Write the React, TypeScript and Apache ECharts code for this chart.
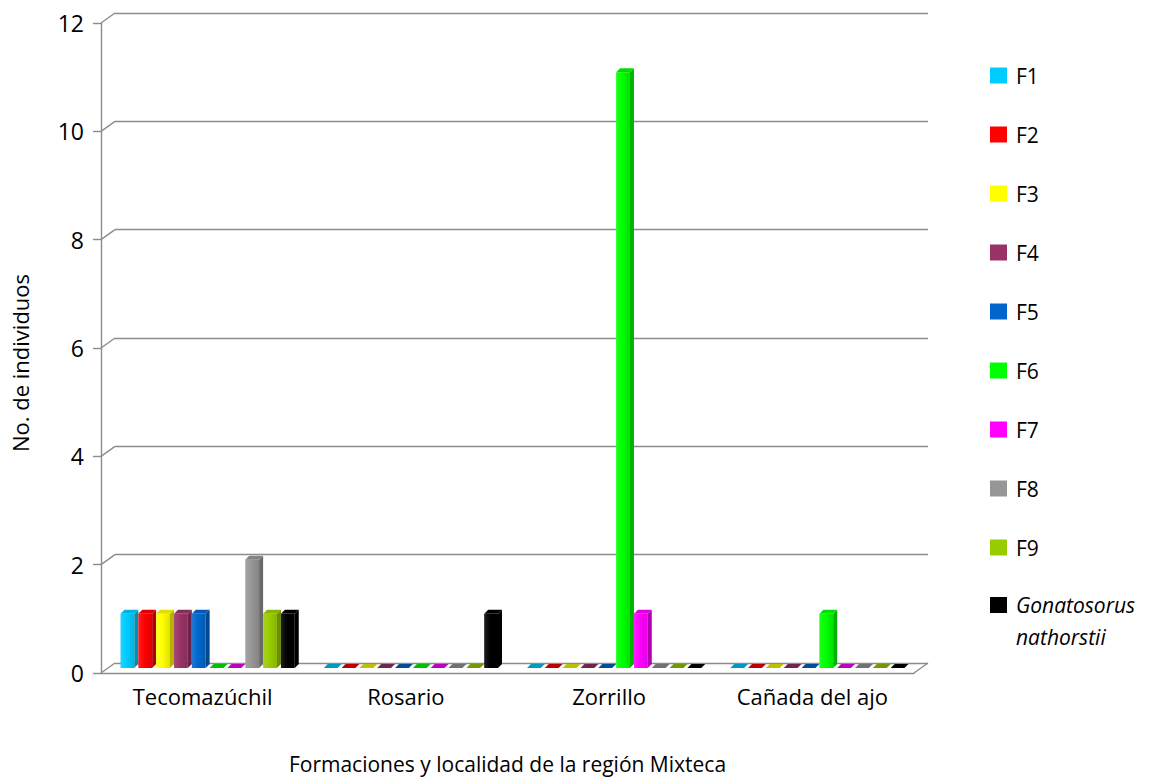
import React, { useEffect, useRef } from "react";
import * as echarts from "echarts";

// Localities on the category axis
const categories = ["Tecomazúchil", "Rosario", "Zorrillo", "Cañada del ajo"];

// Number of individuals per formation, one value per locality
const seriesNames = ["F1", "F2", "F3", "F4", "F5", "F6", "F7", "F8", "F9", "Gonatosorus nathorstii"];
const f1 = [1, 0, 0, 0];
const f2 = [1, 0, 0, 0];
const f3 = [1, 0, 0, 0];
const f4 = [1, 0, 0, 0];
const f5 = [1, 0, 0, 0];
const f6 = [0, 0, 11, 1];
const f7 = [0, 0, 1, 0];
const f8 = [2, 0, 0, 0];
const f9 = [1, 0, 0, 0];
const gonatosorus = [1, 1, 0, 0];
const seriesValues = [f1, f2, f3, f4, f5, f6, f7, f8, f9, gonatosorus];

const seriesColors = [
  "#00CCFF", "#FF0000", "#FFFF00", "#993366", "#0066CC",
  "#00FF00", "#FF00FF", "#969696", "#99CC00", "#000000",
];

// Value axis ticks
const yTicks = [0, 2, 4, 6, 8, 10, 12];

const FONT = "'Open Sans', Lato, sans-serif";
const GRID_LINE = "#8c8c8c";
// Depth offset of the back wall relative to the front axis (pixels)
const DEPTH_X = 14;
const DEPTH_Y = 10;
// Bar depth faces
const BAR_DX = 4;
const BAR_DY = 4;
const GROUP_SHARE = 0.877;

function shade(hex: string, f: number): string {
  const n = parseInt(hex.slice(1), 16);
  let r = (n >> 16) & 255, g = (n >> 8) & 255, b = n & 255;
  if (f < 0) {
    r = Math.round(r * (1 + f)); g = Math.round(g * (1 + f)); b = Math.round(b * (1 + f));
  } else {
    r = Math.round(r + (255 - r) * f); g = Math.round(g + (255 - g) * f); b = Math.round(b + (255 - b) * f);
  }
  return `rgb(${r},${g},${b})`;
}

function barRenderer(seriesIdx: number) {
  const color = seriesColors[seriesIdx];
  return (params: any, api: any) => {
    const cat = api.value(0);
    const val = api.value(1);
    const base = api.coord([cat, 0]);
    const top = api.coord([cat, val]);
    const catW = api.size([1, 0])[0];
    const groupW = catW * GROUP_SHARE;
    const slot = groupW / seriesNames.length;
    const x0 = base[0] - groupW / 2 + seriesIdx * slot;
    const w = slot - BAR_DX;
    const yTop = top[1];
    const yBase = base[1];
    const children: any[] = [];
    if (yBase - yTop > 0.5) {
      children.push({
        type: "rect",
        shape: { x: x0, y: yTop, width: w, height: yBase - yTop },
        style: {
          fill: new echarts.graphic.LinearGradient(0, 0, 1, 0, [
            { offset: 0, color: shade(color, 0.12) },
            { offset: 0.45, color: color },
            { offset: 1, color: shade(color, -0.12) },
          ]),
        },
      });
      children.push({
        type: "polygon",
        shape: {
          points: [
            [x0 + w, yTop],
            [x0 + w + BAR_DX, yTop - BAR_DY],
            [x0 + w + BAR_DX, yBase - BAR_DY],
            [x0 + w, yBase],
          ],
        },
        style: { fill: shade(color, -0.3) },
      });
    }
    children.push({
      type: "polygon",
      shape: {
        points: [
          [x0, yTop],
          [x0 + BAR_DX, yTop - BAR_DY],
          [x0 + w + BAR_DX, yTop - BAR_DY],
          [x0 + w, yTop],
        ],
      },
      style: { fill: val > 0 ? shade(color, -0.12) : shade(color, -0.25) },
    });
    return { type: "group", children };
  };
}

export default function App() {
  const ref = useRef<HTMLDivElement>(null);

  useEffect(() => {
    if (!ref.current) return;
    document.body.style.margin = "0";
    const chart = echarts.init(ref.current, null, { renderer: "svg" });

    const barSeries = seriesNames.map((name, i) => ({
      name,
      type: "custom",
      xAxisIndex: 2,
      yAxisIndex: 2,
      clip: false,
      itemStyle: { color: seriesColors[i] },
      data: seriesValues[i].map((v, c) => [c, v]),
      renderItem: barRenderer(i),
      z: 3,
    }));

    // Diagonal connectors between the front axis and the back wall
    const depthSeries = {
      name: "",
      type: "custom",
      xAxisIndex: 1,
      yAxisIndex: 1,
      silent: true,
      clip: false,
      data: yTicks.map((v) => [0, v]),
      renderItem: (params: any, api: any) => {
        const v = api.value(1);
        const p = api.coord([0, v]);
        const half = api.size([1, 0])[0] / 2;
        const left = p[0] - half;
        const lineStyle = { stroke: GRID_LINE, lineWidth: 1.4 };
        const children: any[] = [
          {
            type: "line",
            shape: { x1: left, y1: p[1], x2: left + DEPTH_X, y2: p[1] - DEPTH_Y },
            style: lineStyle,
          },
        ];
        if (v === 0) {
          const right = api.coord([categories.length - 1, 0])[0] + half;
          children.push({
            type: "line",
            shape: { x1: right, y1: p[1], x2: right + DEPTH_X, y2: p[1] - DEPTH_Y },
            style: lineStyle,
          });
        }
        return { type: "group", children };
      },
      z: 1,
    };

    const legendText = {
      color: "#000",
      fontSize: 21,
      lineHeight: 20,
      fontFamily: FONT,
      padding: [0, 0, 0, 4],
    };

    chart.setOption({
      animation: false,
      textStyle: { fontFamily: FONT },
      grid: [
        { left: 115, top: 13, width: 813, height: 650, outerBoundsMode: "none" },
        { left: 101, top: 23, width: 813, height: 650, outerBoundsMode: "none" },
        { left: 108, top: 18, width: 813, height: 650, outerBoundsMode: "none" },
      ],
      xAxis: [
        { type: "category", gridIndex: 0, data: categories, show: false },
        {
          type: "category",
          gridIndex: 1,
          data: categories,
          axisLine: { show: true, lineStyle: { color: GRID_LINE, width: 1.4 } },
          axisTick: { show: false },
          axisLabel: { color: "#000", fontSize: 22, margin: 12, fontFamily: FONT },
          name: "Formaciones y localidad de la región Mixteca",
          nameLocation: "middle",
          nameGap: 80,
          nameTextStyle: { color: "#000", fontSize: 21, lineHeight: 22, fontFamily: FONT },
        },
        { type: "category", gridIndex: 2, data: categories, show: false },
      ],
      yAxis: [
        {
          type: "value",
          gridIndex: 0,
          min: 0,
          max: 12,
          interval: 2,
          axisLine: { show: false },
          axisTick: { show: false },
          axisLabel: { show: false },
          splitLine: { show: true, lineStyle: { color: GRID_LINE, width: 1.4 } },
        },
        {
          type: "value",
          gridIndex: 1,
          min: 0,
          max: 12,
          interval: 2,
          axisLine: { show: true, lineStyle: { color: GRID_LINE, width: 1.4 } },
          axisTick: { show: true, length: 8, lineStyle: { color: GRID_LINE, width: 1.4 } },
          axisLabel: { color: "#000", fontSize: 23, margin: 17, fontFamily: FONT },
          splitLine: { show: false },
          name: "No. de individuos",
          nameLocation: "middle",
          nameGap: 70,
          nameRotate: 90,
          nameTextStyle: { color: "#000", fontSize: 22, fontFamily: FONT, padding: [0, 30, 0, 0] },
        },
        { type: "value", gridIndex: 2, min: 0, max: 12, interval: 2, show: false },
      ],
      legend: [
        {
          orient: "vertical",
          left: 985,
          top: 60,
          icon: "rect",
          itemWidth: 17,
          itemHeight: 16,
          itemGap: 38,
          data: seriesNames.slice(0, 9),
          selectedMode: false,
          textStyle: legendText,
        },
        {
          orient: "vertical",
          left: 985,
          top: 552,
          icon: "rect",
          itemWidth: 17,
          itemHeight: 16,
          data: seriesNames.slice(9),
          selectedMode: false,
          textStyle: {
            ...legendText,
            rich: {
              it: { fontStyle: "italic", fontSize: 21, lineHeight: 32, fontFamily: FONT, color: "#000" },
              blank: { fontSize: 21, lineHeight: 32 },
            },
          },
          formatter: () => "{blank|}\n{it|Gonatosorus}\n{it|nathorstii}",
        },
      ],
      series: [depthSeries, ...barSeries],
    });

    return () => chart.dispose();
  }, []);

  return <div ref={ref} style={{ width: 1173, height: 779 }} />;
}
